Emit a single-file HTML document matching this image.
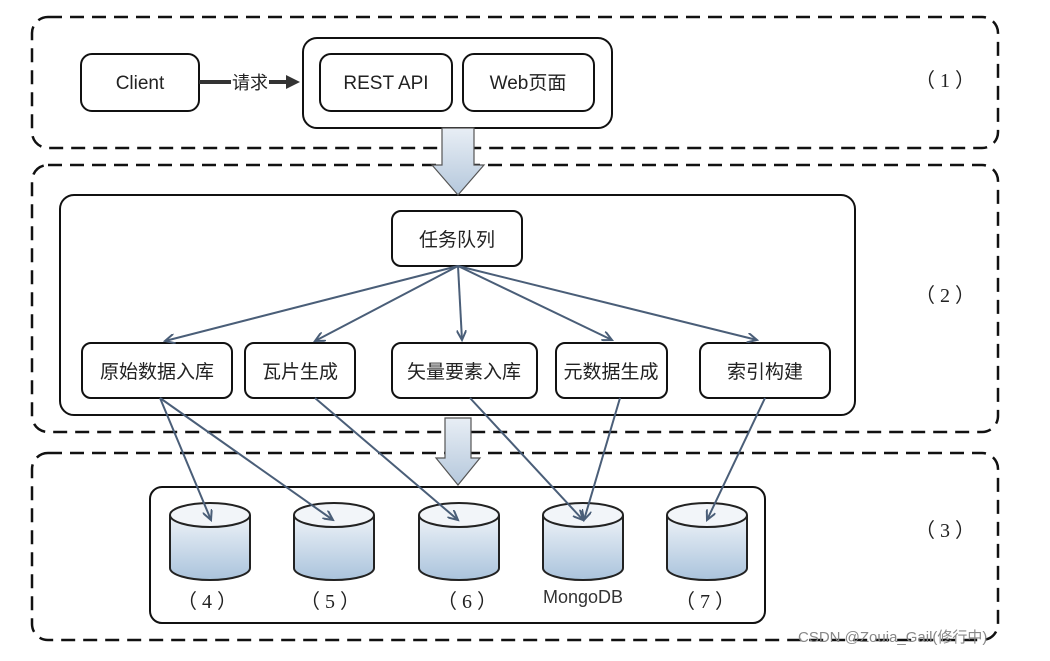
<!DOCTYPE html>
<html><head><meta charset="utf-8"><style>
body{margin:0;background:#fff;}
svg text{font-family:"Liberation Sans","Noto Sans CJK SC",sans-serif;}
</style></head><body>
<svg width="1050" height="656" viewBox="0 0 1050 656" xmlns="http://www.w3.org/2000/svg">
<defs>
<linearGradient id="cy" x1="0" y1="0" x2="0" y2="1"><stop offset="0" stop-color="#eef3f8"/><stop offset="1" stop-color="#aac3dc"/></linearGradient>
<linearGradient id="fa" x1="0" y1="0" x2="0" y2="1"><stop offset="0" stop-color="#e8eef5"/><stop offset="1" stop-color="#b5c8dc"/></linearGradient>
<marker id="ah" markerWidth="12" markerHeight="10" refX="10" refY="5" orient="auto" markerUnits="userSpaceOnUse"><path d="M0,0 L10,5 L0,10" fill="none" stroke="#4a5e78" stroke-width="2"/></marker>
</defs>
<g fill="none" stroke="#111" stroke-width="2.5" stroke-dasharray="14,8">
<rect x="32" y="17" width="966" height="131" rx="16"/>
<rect x="32" y="165" width="966" height="267" rx="16"/>
<rect x="32" y="453" width="966" height="187" rx="16"/>
</g>
<g fill="#fff" stroke="#111" stroke-width="2">
<rect x="81" y="54" width="118" height="57" rx="11"/>
<rect x="303" y="38" width="309" height="90" rx="14"/>
<rect x="320" y="54" width="132" height="57" rx="11"/>
<rect x="463" y="54" width="131" height="57" rx="11"/>
<rect x="60" y="195" width="795" height="220" rx="14"/>
<rect x="392" y="211" width="130" height="55" rx="9"/>
<rect x="82" y="343" width="150" height="55" rx="9"/>
<rect x="245" y="343" width="110" height="55" rx="9"/>
<rect x="392" y="343" width="145" height="55" rx="9"/>
<rect x="556" y="343" width="111" height="55" rx="9"/>
<rect x="700" y="343" width="130" height="55" rx="9"/>
<rect x="150" y="487" width="615" height="136" rx="12"/>
</g>
<line x1="199" y1="82" x2="231" y2="82" stroke="#333" stroke-width="4"/>
<line x1="269" y1="82" x2="288" y2="82" stroke="#333" stroke-width="4"/>
<path d="M286,75 L300,82 L286,89Z" fill="#333"/>
<g font-size="19" fill="#222" text-anchor="middle">
<text x="140" y="89">Client</text>
<text x="250" y="89" font-size="18">请求</text>
<text x="386" y="89">REST API</text>
<text x="528" y="89">Web页面</text>
<text x="457" y="246">任务队列</text>
<text x="157" y="378">原始数据入库</text>
<text x="300" y="378">瓦片生成</text>
<text x="464" y="378">矢量要素入库</text>
<text x="611" y="378">元数据生成</text>
<text x="765" y="378">索引构建</text>
<text x="583" y="603" font-size="18" fill="#333">MongoDB</text>
</g>
<g font-size="20" fill="#222" text-anchor="middle">
<text x="945" y="87" style="font-family:'Liberation Serif',serif">（ 1 ）</text>
<text x="945" y="302" style="font-family:'Liberation Serif',serif">（ 2 ）</text>
<text x="945" y="537" style="font-family:'Liberation Serif',serif">（ 3 ）</text>
<text x="207" y="608" style="font-family:'Liberation Serif',serif">（ 4 ）</text>
<text x="330" y="608" style="font-family:'Liberation Serif',serif">（ 5 ）</text>
<text x="467" y="608" style="font-family:'Liberation Serif',serif">（ 6 ）</text>
<text x="705" y="608" style="font-family:'Liberation Serif',serif">（ 7 ）</text>
</g>
<path d="M442,128 L474,128 L474,165 L484,165 L458,195 L432,165 L442,165Z" fill="url(#fa)" stroke="#555" stroke-width="1.2"/>
<path d="M445,418 L471,418 L471,458 L480,458 L458,485 L436,458 L445,458Z" fill="url(#fa)" stroke="#555" stroke-width="1.2"/>
<g stroke="#4a5e78" stroke-width="2" marker-end="url(#ah)">
<line x1="458" y1="266" x2="165" y2="341"/>
<line x1="458" y1="266" x2="315" y2="341"/>
<line x1="458" y1="266" x2="462" y2="340"/>
<line x1="458" y1="266" x2="612" y2="340"/>
<line x1="458" y1="266" x2="757" y2="340"/>
</g>
<g stroke="#222" stroke-width="2" fill="url(#cy)">
<path d="M170,515 L170,568 A40,12 0 0 0 250,568 L250,515"/><ellipse cx="210" cy="515" rx="40" ry="12" fill="#f2f5f9"/>
<path d="M294,515 L294,568 A40,12 0 0 0 374,568 L374,515"/><ellipse cx="334" cy="515" rx="40" ry="12" fill="#f2f5f9"/>
<path d="M419,515 L419,568 A40,12 0 0 0 499,568 L499,515"/><ellipse cx="459" cy="515" rx="40" ry="12" fill="#f2f5f9"/>
<path d="M543,515 L543,568 A40,12 0 0 0 623,568 L623,515"/><ellipse cx="583" cy="515" rx="40" ry="12" fill="#f2f5f9"/>
<path d="M667,515 L667,568 A40,12 0 0 0 747,568 L747,515"/><ellipse cx="707" cy="515" rx="40" ry="12" fill="#f2f5f9"/>
</g>
<g stroke="#4a5e78" stroke-width="2" marker-end="url(#ah)">
<line x1="160" y1="398" x2="211" y2="520"/>
<line x1="160" y1="398" x2="333" y2="520"/>
<line x1="315" y1="398" x2="458" y2="520"/>
<line x1="470" y1="398" x2="583" y2="520"/>
<line x1="620" y1="398" x2="584" y2="520"/>
<line x1="765" y1="398" x2="707" y2="520"/>
</g>
<text x="798" y="642" font-size="15" fill="#888">CSDN @Zouia_Gail(修行中)</text>
</svg>
</body></html>
